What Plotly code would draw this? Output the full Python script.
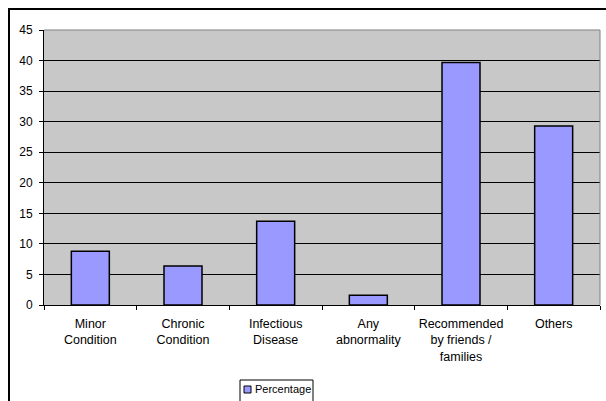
import plotly.graph_objects as go

categories = [
    "Minor<br>Condition",
    "Chronic<br>Condition",
    "Infectious<br>Disease",
    "Any<br>abnormality",
    "Recommended<br>by friends /<br>families",
    "Others",
]
percentage = [8.8, 6.4, 13.7, 1.6, 39.7, 29.3]
y_ticks = [0, 5, 10, 15, 20, 25, 30, 35, 40, 45]
series_name = "Percentage"
bar_color = "#9999FF"

W, H = 606, 401
ML, MR, MT, MB = 44, 6, 30, 96
PW, PH = W - ML - MR, H - MT - MB


def px_x(p):
    return (p - ML) / PW


def px_y(p):
    return (H - MB - p) / PH


fig = go.Figure(
    go.Bar(
        x=categories,
        y=percentage,
        name=series_name,
        marker=dict(color=bar_color, line=dict(color="black", width=1.5)),
        width=0.41,
        showlegend=False,
    )
)

family = "Liberation Sans, Arial, sans-serif"
xfont = dict(family=family, size=12.5, color="black")
yfont = dict(family=family, size=12, color="black")

fig.update_layout(
    width=W,
    height=H,
    margin=dict(l=ML, r=MR, t=MT, b=MB, pad=0),
    paper_bgcolor="white",
    plot_bgcolor="#C8C8C8",
    font=yfont,
    xaxis=dict(
        showline=True,
        linecolor="black",
        linewidth=1,
        ticks="outside",
        tickson="boundaries",
        ticklen=4,
        tickcolor="black",
        showgrid=False,
        tickfont=xfont,
        tickangle=0,
        ticklabelstandoff=7,
        automargin=False,
    ),
    yaxis=dict(
        range=[0, 45],
        tickvals=y_ticks,
        showline=True,
        linecolor="black",
        linewidth=1,
        ticks="outside",
        ticklen=4,
        tickcolor="black",
        showgrid=True,
        gridcolor="black",
        gridwidth=1,
        zeroline=False,
        tickfont=yfont,
        ticklabelstandoff=4,
        automargin=False,
    ),
    shapes=[
        # plot area edges on the top and right
        dict(type="line", xref="paper", yref="paper", x0=0, x1=1, y0=1, y1=1,
             line=dict(color="#808080", width=1), layer="above"),
        dict(type="line", xref="paper", yref="paper", x0=1, x1=1, y0=0, y1=1,
             line=dict(color="#808080", width=1), layer="above"),
        # chart frame
        dict(type="rect", xref="paper", yref="paper",
             x0=px_x(9), x1=px_x(W + 20), y0=px_y(9), y1=px_y(H + 20),
             line=dict(color="black", width=2), layer="above"),
        # legend box
        dict(type="rect", xref="paper", yref="paper",
             x0=px_x(240), x1=px_x(313), y0=px_y(380), y1=px_y(H + 10),
             fillcolor="white", line=dict(color="black", width=1), layer="above"),
        # legend key
        dict(type="rect", xref="paper", yref="paper",
             x0=px_x(244), x1=px_x(251), y0=px_y(386), y1=px_y(393),
             fillcolor=bar_color, line=dict(color="black", width=1), layer="above"),
    ],
    annotations=[
        dict(
            text=series_name,
            xref="paper", yref="paper",
            x=px_x(252.5), y=px_y(389.5),
            xanchor="left", yanchor="middle",
            showarrow=False,
            font=dict(family=family, size=11, color="black"),
        ),
    ],
)

fig.write_html("out.html")
